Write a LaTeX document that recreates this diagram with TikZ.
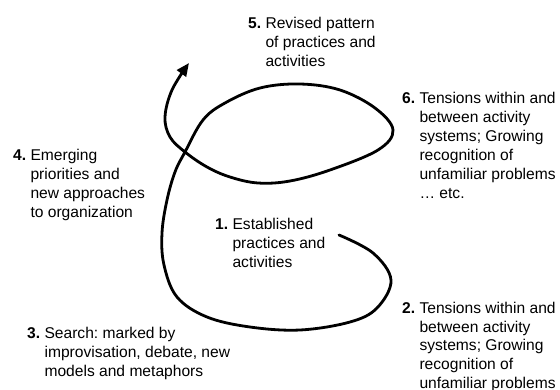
\documentclass[tikz,border=0pt]{standalone}
\usepackage{fontspec}
\setmainfont{Liberation Sans}
\usetikzlibrary{arrows.meta}
\frenchspacing
% numbered stage: bold number, then the text block hanging after it
\newcommand{\stagetext}[2]{\textbf{#1} \begin{tabular}[t]{@{}l@{}}#2\end{tabular}}

\begin{document}
\begin{tikzpicture}[x=1pt,y=-1pt,
  stage/.style={anchor=base west, inner sep=0pt, font=\fontsize{15.6}{19}\selectfont},
  spiral/.style={line width=2.8pt, line cap=round, -{Triangle[length=13pt,width=11pt]}}]
\useasboundingbox (0,0) rectangle (560,390);
\clip (0,0) rectangle (560,390);

% stages of the cycle
\node[stage] (s1) at (215,230) {\stagetext{1.}{Established\\practices and\\activities}};
\node[stage] (s2) at (402,313) {\stagetext{2.}{Tensions within and\\between activity\\systems; Growing\\recognition of\\unfamiliar problems}};
\node[stage] (s3) at (27,338) {\stagetext{3.}{Search: marked by\\improvisation, debate, new\\models and metaphors}};
\node[stage] (s4) at (13,161) {\stagetext{4.}{Emerging\\priorities and\\new approaches\\to organization}};
\node[stage] (s5) at (248,29) {\stagetext{5.}{Revised pattern\\of practices and\\activities}};
\node[stage] (s6) at (402,104) {\stagetext{6.}{Tensions within and\\between activity\\systems; Growing\\recognition of\\unfamiliar problems\\… etc.}};

% the spiral, from stage 1 round to stage 5
\draw[spiral] plot[smooth, tension=0.6] coordinates {
  (339,235) (373,253) (391,280) (377,308) (350,322) (300,330) (250,327)
  (207,317) (177,297) (164,265) (162,233) (167,200) (175,172) (185,152)
  (203,120) (225,103) (260,88) (300,84) (340,90) (375,108) (393,130)
  (378,150) (330,170) (290,181) (258,183) (230,177) (207,167) (185,152)
  (170,137) (165,117) (172,90) (189,63)};
\end{tikzpicture}
\end{document}
